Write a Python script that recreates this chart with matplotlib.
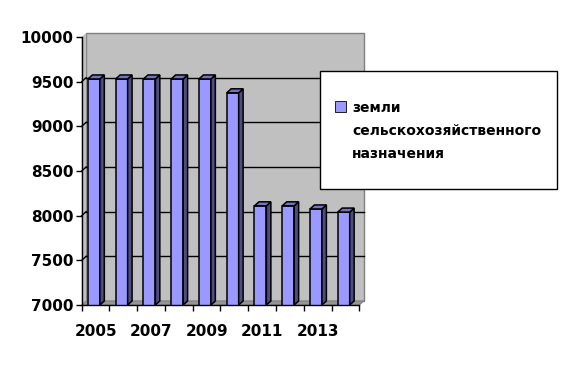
import matplotlib.pyplot as plt
from matplotlib.patches import Polygon, Rectangle

# Дані з графіка
years = [2005, 2006, 2007, 2008, 2009, 2010, 2011, 2012, 2013, 2014]
values = [9530, 9530, 9530, 9530, 9530, 9375, 8110, 8110, 8075, 8040]
legend_lines = ["земли", "сельскохозяйственного", "назначения"]
y_ticks = [7000, 7500, 8000, 8500, 9000, 9500, 10000]

ymin, ymax = 7000, 10000
dx, dy = 0.16, 45  # зсув "глибини" для псевдо-3D
bar_w = 0.43
front, side, top = '#9999FF', '#4D4D80', '#7373BF'

plt.rcParams['font.family'] = ['DejaVu Sans']
fig = plt.figure(figsize=(5.65, 3.68), dpi=100)
ax = fig.add_axes([0.1446, 0.1712, 0.4913, 0.7283])
ax.set_facecolor('none')

n = len(years)
x = list(range(n))
x0, x1 = -0.5, n - 0.5

# Задня стінка, бічна стінка та підлога
ax.add_patch(Rectangle((x0 + dx, ymin + dy), x1 - x0, ymax - ymin,
                       facecolor='#C0C0C0', edgecolor='#808080', lw=1,
                       zorder=0, clip_on=False))
ax.add_patch(Polygon([(x0, ymin), (x0 + dx, ymin + dy), (x0 + dx, ymax + dy), (x0, ymax)],
                     facecolor='#C0C0C0', edgecolor='none', zorder=0, clip_on=False))
ax.add_patch(Polygon([(x0, ymin), (x1, ymin), (x1 + dx, ymin + dy), (x0 + dx, ymin + dy)],
                     facecolor='#969696', edgecolor='#808080', lw=0.8, zorder=0.5, clip_on=False))

# Лінії сітки на задній стінці
for v in y_ticks[1:-1]:
    ax.plot([x0 + dx, x1 + dx], [v + dy, v + dy], color='black', lw=1, zorder=1, clip_on=False)
    ax.plot([x0, x0 + dx], [v, v + dy], color='black', lw=1, zorder=1, clip_on=False)

# Стовпці
centers = [xi - 0.06 for xi in x]
ax.bar(centers, values, width=bar_w, color=front, edgecolor='black', lw=1.1, zorder=3)
for c, v in zip(centers, values):
    xl, xr = c - bar_w / 2, c + bar_w / 2
    ax.add_patch(Polygon([(xr, ymin), (xr + dx, ymin + dy), (xr + dx, v + dy), (xr, v)],
                         facecolor=side, edgecolor='black', lw=1.1, zorder=3))
    ax.add_patch(Polygon([(xl, v), (xr, v), (xr + dx, v + dy), (xl + dx, v + dy)],
                         facecolor=top, edgecolor='black', lw=1.1, zorder=3))

ax.set_xlim(x0, x1)
ax.set_ylim(ymin, ymax)

# Осі
for s in ['top', 'right']:
    ax.spines[s].set_visible(False)
ax.spines['left'].set_linewidth(1)
ax.spines['bottom'].set_linewidth(1)
ax.spines['bottom'].set_zorder(4)

ax.set_yticks(y_ticks)
ax.set_yticklabels([str(t) for t in y_ticks], fontsize=11, fontweight='bold')
ax.tick_params(axis='y', length=4, width=1, pad=2)

ax.set_xticks(x[::2])
ax.set_xticklabels([str(years[i]) for i in x[::2]], fontsize=11, fontweight='bold')
ax.set_xticks([xi - 0.5 for xi in x] + [x1], minor=True)
ax.tick_params(axis='x', which='major', length=0, pad=14)
ax.tick_params(axis='x', which='minor', length=4, width=1)

# Легенда
fig.patches.append(Rectangle((0.5664, 0.4864), 0.4195, 0.3207, transform=fig.transFigure,
                             facecolor='white', edgecolor='black', lw=1, zorder=5))
fig.patches.append(Rectangle((335 / 565, 1 - 112 / 368), 10.5 / 565, 10.5 / 368,
                             transform=fig.transFigure, facecolor=front,
                             edgecolor='black', lw=0.6, zorder=6))
for i, line in enumerate(legend_lines):
    fig.text(352 / 565, 1 - (108.5 + 22.5 * i) / 368, line, fontsize=10, fontweight='bold',
             va='center', ha='left', zorder=7)

fig.savefig('out.png', dpi=100)
